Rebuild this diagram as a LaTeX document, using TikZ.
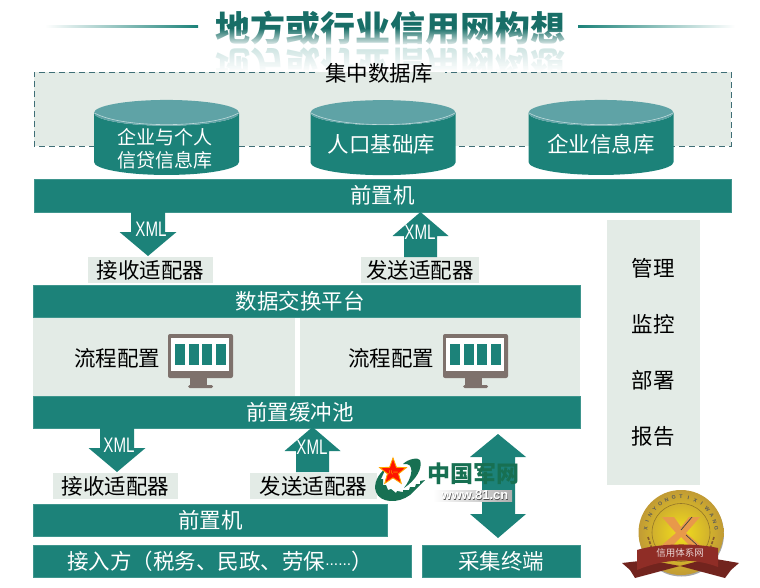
\documentclass[tikz,border=0pt]{standalone}
\usepackage{fontspec}
\setmainfont{Noto Sans CJK SC}
\setsansfont{Liberation Sans}
\usetikzlibrary{shapes.geometric, fadings}

\definecolor{tealbar}{HTML}{1C8279}
\definecolor{palegreen}{HTML}{E3EBE6}
\definecolor{cyltop}{HTML}{5FA3A6}
\definecolor{dashgrey}{HTML}{3F6E76}
\definecolor{screengrey}{HTML}{7E716C}
\definecolor{armygreen}{HTML}{177052}
\definecolor{ribbonred}{HTML}{8F2D26}
\definecolor{medalgold}{HTML}{E3B63E}

\newcommand{\sz}[1]{\fontsize{#1}{#1}\selectfont}

\tikzset{
  bar/.style={fill=tealbar, draw=tealbar!85!white, line width=0.5pt, text=white, inner sep=0pt, font=\sz{21.5}},
  palebox/.style={fill=palegreen, inner sep=0pt, font=\sz{21.5}},
  cyl/.style={shape=cylinder, shape border rotate=90, aspect=0.24, cylinder uses custom fill,
    cylinder body fill=tealbar, cylinder end fill=cyltop, inner sep=0pt, text=white, align=center, font=\sz{21.5}},
  xmltext/.style={text=white, inner sep=0pt, font=\sffamily\sz{21}, xscale=0.72, transform shape},
  flow/.style={inner sep=0pt, font=\sz{21.5}},
  manage/.style={inner sep=0pt, font=\sz{21.5}},
  pics/monitor/.style={code={
    \fill[screengrey, rounded corners=2pt] (0,0) rectangle (65,44);
    \fill[white] (3,4) rectangle (61,37);
    \fill[screengrey] (22,44) rectangle (39,51);
    \fill[screengrey, rounded corners=1.5pt] (20,51) rectangle (45,54);
    \foreach \i in {0,1,2,3}
      \fill[tealbar] (7+13.7*\i,10) rectangle (17+13.7*\i,31);
  }}
}

\begin{document}
\begin{tikzpicture}[x=1pt,y=-1pt]
\useasboundingbox (0,0) rectangle (760,588);

% Title
\node[inner sep=0pt, text=tealbar!85!black, font=\bfseries\sz{35}] (title) at (390,28) {地方或行业信用网构想};
\fill[white, path fading=north] (205,28) rectangle (575,47);
\node[inner sep=0pt, text=tealbar, opacity=0.22, font=\bfseries\sz{35}, yscale=-1, transform shape] (titleshadow) at (390,65) {地方或行业信用网构想};
\fill[white, path fading=north] (205,47) rectangle (575,72);
\shade[left color=white, right color=tealbar] (45,26) rectangle (198,28);
\shade[left color=tealbar, right color=white] (578,26) rectangle (735,28);

% Central database
\fill[palegreen] (34,72) rectangle (731,146);
\draw[dashgrey, line width=0.8pt, dash pattern=on 6pt off 4pt] (315,72) -- (34,72) -- (34,146) -- (731,146) -- (731,72) -- (445,72);
\node[inner sep=0pt, font=\sz{21.5}] (central) at (379,73) {集中数据库};
\node[cyl, minimum width=145pt, minimum height=75pt] (dbcredit) at (166.5,144) {\phantom{企业信息库}};
\node[cyl, minimum width=145pt, minimum height=75pt] (dbpeople) at (383,144) {\hspace{-3pt}人口基础库};
\node[cyl, minimum width=145pt, minimum height=75pt] (dbcompany) at (601,144) {企业信息库};
\foreach \cx in {166.5, 383, 601}
  \draw[cyltop!40!white, line width=0.6pt] (\cx-72,113) .. controls (\cx-45,128.5) and (\cx+45,128.5) .. (\cx+72,113);
\node[inner sep=0pt, text=white, align=center, font=\fontsize{19}{23}\selectfont] (dbcreditname) at (165,148.5) {企业与个人\\信贷信息库};

% Front bars and platform
\node[bar, minimum width=697pt, minimum height=33pt] (frontA) at (382.5,195.5) {前置机};
\node[bar, minimum width=547pt, minimum height=32pt] (exchange) at (307,301) {数据交换平台\rule{14pt}{0pt}};
\node[fill=palegreen, minimum width=262pt, minimum height=78pt, inner sep=0pt] (panelL) at (164,357) {};
\node[fill=palegreen, minimum width=280pt, minimum height=78pt, inner sep=0pt] (panelR) at (440,357) {};
\node[bar, minimum width=547pt, minimum height=32pt] (buffer) at (307,412) {前置缓冲池\rule{14pt}{0pt}};
\node[bar, minimum width=354pt, minimum height=32pt] (frontB) at (210.5,520) {前置机};
\node[bar, minimum width=378pt, minimum height=32pt] (access) at (222,561) {接入方（税务、民政、劳保{\sffamily\sz{15.5}\raisebox{4pt}{......}}）\rule{4pt}{0pt}};
\node[bar, minimum width=158pt, minimum height=32pt] (terminal) at (501,561) {采集终端};

% Flow config
\node[flow] (flowL) at (117,358) {流程配置};
\node[flow] (flowR) at (391,358) {流程配置};
\pic at (168,334) {monitor};
\pic at (443,334) {monitor};

% Adapters
\node[palebox, minimum width=125pt, minimum height=26pt] (recvA) at (150.5,270) {接收适配器};
\node[palebox, minimum width=118pt, minimum height=26pt] (sendA) at (420,270) {发送适配器};
\node[palebox, minimum width=125pt, minimum height=26pt] (recvB) at (115.5,486) {接收适配器};
\node[palebox, minimum width=127pt, minimum height=26pt] (sendB) at (313.5,486) {发送适配器};

% Arrows
\foreach \cx/\ty in {148/212, 117/428}
  \fill[tealbar] (\cx-17,\ty) -- (\cx+17,\ty) -- (\cx+17,\ty+20) -- (\cx+28.5,\ty+20) -- (\cx,\ty+44) -- (\cx-28.5,\ty+20) -- (\cx-17,\ty+20) -- cycle;
\foreach \cx/\ty in {420.5/212, 312.5/427}
  \fill[tealbar] (\cx,\ty) -- (\cx+28,\ty+24) -- (\cx+16.5,\ty+24) -- (\cx+16.5,\ty+45) -- (\cx-16.5,\ty+45) -- (\cx-16.5,\ty+24) -- (\cx-28,\ty+24) -- cycle;
\node[xmltext] (xmlA) at (151,229.5) {XML};
\node[xmltext] (xmlB) at (420,232) {XML};
\node[xmltext] (xmlC) at (119,445) {XML};
\node[xmltext] (xmlD) at (312,447) {XML};
\fill[tealbar] (498,434) -- (526,457) -- (515,457) -- (515,514) -- (526,514) -- (498,538) -- (470,514) -- (482,514) -- (482,457) -- (470,457) -- cycle;

% Management panel
\fill[palegreen] (607,220) rectangle (700,485);
\node[manage] (mgmtA) at (653,268) {管理};
\node[manage] (mgmtB) at (653,324) {监控};
\node[manage] (mgmtC) at (653,380) {部署};
\node[manage] (mgmtD) at (653,436) {报告};

% Army logo
\fill[armygreen] (403,464) .. controls (408,459) and (418,457) .. (420,460) .. controls (423,468) and (416,480) .. (404,488)
  .. controls (412,478) and (416,462) .. (403,464) -- cycle;
\fill[armygreen] (386,468) .. controls (378,474) and (373,484) .. (376,492) .. controls (380,503) and (398,504) .. (410,495)
  -- (425,480) -- (420,481) -- (420,484) -- (416,484) -- (415,487) -- (410,487) -- (409,490) -- (403,490) -- (403,492) -- (397,491)
  -- (396,493) -- (391,489) -- (388,490) -- (386,485) -- (383,485) -- (383,479) -- (381,479) -- cycle;
\node[star, star points=5, star point ratio=2.4, fill=red!85!orange, draw=orange!70!yellow, line width=0.9pt, minimum size=28pt, inner sep=0pt] (armystar) at (393,472) {};
\node[inner sep=0pt, text=yellow, font=\sz{5}] (armytag) at (393,473) {八一};
\node[inner sep=0pt, text=armygreen, font=\bfseries\sz{23}] (armyname) at (473,473.5) {中国军网};
\shade[left color=white, right color=black!32] (433,490) rectangle (512,501);
\node[inner sep=0pt, text=black!70, font=\sffamily\bfseries\sz{13}] (armyurlshade) at (475.5,496) {www.81.cn};
\node[inner sep=0pt, text=white, font=\sffamily\bfseries\sz{13}] (armyurl) at (475,495.5) {www.81.cn};

% Medal
\fill[black!35] (681.5,534) circle [radius=42.5];
\shade[inner color=yellow!55!medalgold, outer color=medalgold!85!black] (681,532.5) circle [radius=42.5];
\draw[medalgold!65!black, line width=0.6pt] (681,532.5) circle [radius=29];
\foreach \ch [count=\i] in {X,I,N,Y,O,N,G,T,I,X,I,W,A,N,G}
  \node[inner sep=0pt, text=black!65, font=\sffamily\bfseries\sz{5.2}, rotate={(8-\i)*12}] (ml\i) at ({681+35.5*cos(90+(8-\i)*12)},{532.5-35.5*sin(90+(8-\i)*12)}) {\ch};
\draw[brown!70!black, line width=1.6pt, dash pattern=on 3pt off 1.5pt] (648,537) -- (653,552);
\draw[brown!70!black, line width=1.6pt, dash pattern=on 3pt off 1.5pt] (714,537) -- (709,552);
\fill[orange!55!brown!80!white] (662,517) -- (674,517) -- (681,527) -- (689,517) -- (700,517) -- (686,533) -- (700,545) -- (689,545) -- (681,537) -- (673,545) -- (662,545) -- (676,533) -- cycle;
\draw[black!75, line width=0.7pt] (681,530) -- (692,517) (686,535) -- (697,545);
\fill[ribbonred!80!black] (648,560) -- (622,563) -- (630,570) -- (635,578) -- (680,566) -- cycle;
\fill[ribbonred!80!black] (710,558) -- (739,563) -- (731,570) -- (725,578) -- (680,566) -- cycle;
\fill[ribbonred] (637,550) .. controls (660,543) and (695,543) .. (718,548) -- (718,567) .. controls (695,558) and (665,558) .. (637,570) -- cycle;
\node[inner sep=0pt, text=white!80!ribbonred, font=\sz{9.5}] (medalname) at (680,553) {信用体系网};
\end{tikzpicture}
\end{document}
